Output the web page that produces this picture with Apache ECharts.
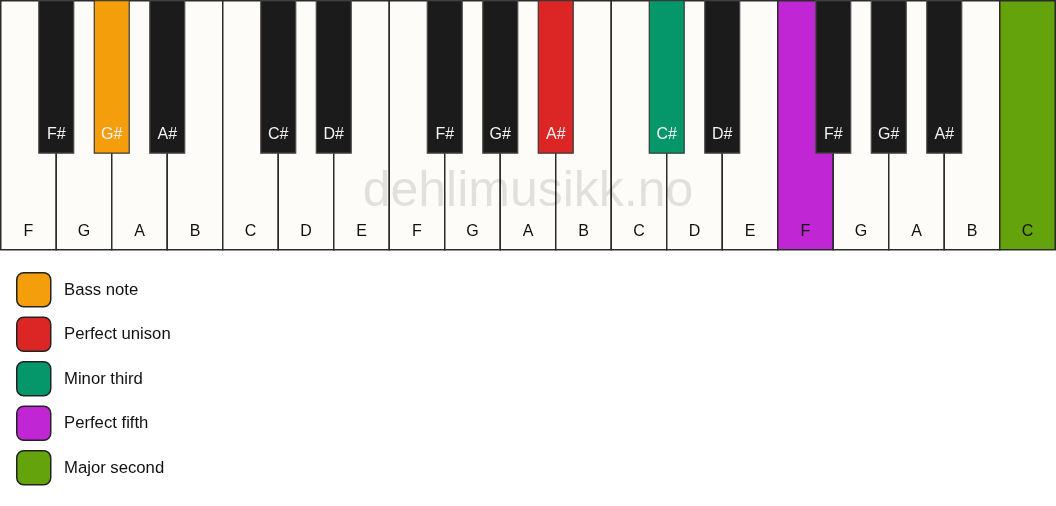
<!DOCTYPE html>
<html>
<head>
<meta charset="utf-8">
<script src="https://cdn.jsdelivr.net/npm/echarts@6/dist/echarts.min.js"></script>
<style>
html,body{margin:0;padding:0;background:#fff;}
#chart{width:1056px;height:506px;}
</style>
</head>
<body>
<div id="chart"></div>
<script>
// ---- data ----
var whiteKeys = ['F','G','A','B','C','D','E','F','G','A','B','C','D','E','F','G','A','B','C'];
var blackKeys = ['F#','G#','A#','C#','D#','F#','G#','A#','C#','D#','F#','G#','A#'];
// boundary index (between white key i-1 and i) where each black key sits
var blackPositions = [1,2,3,5,6,8,9,10,12,13,15,16,17];
// highlighted keys: type ('w' white index / 'b' black index), legend index
var highlightKind = ['b','b','b','w','w'];
var highlightIndex = [1,7,8,14,18];
var legendNames = ['Bass note','Perfect unison','Minor third','Perfect fifth','Major second'];
var legendColors = ['#F59E0B','#DC2626','#059669','#C026D3','#65A30D'];
var watermark = 'dehlimusikk.no';

var FONT = '"Liberation Sans", Arial, sans-serif';
var BLACK_W = 0.63;     // in white-key units
var BLACK_H = 0.612;    // fraction of key height

function colorFor(kind, idx){
  for (var k=0;k<highlightKind.length;k++){
    if (highlightKind[k]===kind && highlightIndex[k]===idx) return legendColors[k];
  }
  return null;
}

var whiteData = whiteKeys.map(function(n,i){ return [i, i]; });
var blackData = blackKeys.map(function(n,i){ return [blackPositions[i], i]; });

var chart = echarts.init(document.getElementById('chart'), null, {renderer:'canvas'});

var legendGraphics = [];
legendNames.forEach(function(name,k){
  var cy = 289 + k*44.5;
  legendGraphics.push({
    type:'rect', left:16, top:cy-17, shape:{width:34,height:34,r:7},
    style:{fill:legendColors[k], stroke:'#222', lineWidth:1.5}, z:10
  });
  legendGraphics.push({
    type:'text', x:64, y:cy+1,
    style:{text:name, fill:'#111', font:'16.7px '+FONT, textAlign:'left', textVerticalAlign:'middle'}, z:10
  });
});
legendGraphics.push({
  type:'text', x:528, y:192,
  style:{text:watermark, fill:'rgba(0,0,0,0.11)', font:'50px '+FONT, textAlign:'center', textVerticalAlign:'middle'},
  z:100
});

chart.setOption({
  animation:false,
  backgroundColor:'#ffffff',
  grid:{left:0.75, top:0.75, width:1054.5, height:249},
  xAxis:{type:'value', min:0, max:19, show:false},
  yAxis:{type:'value', min:0, max:1, inverse:true, show:false},
  graphic:legendGraphics,
  series:[
    {
      type:'custom', z:2,
      data:whiteData,
      renderItem:function(params, api){
        var i = api.value(0);
        var p0 = api.coord([i,0]);
        var p1 = api.coord([i+1,1]);
        var c = colorFor('w', i);
        var lbl = api.coord([i+0.5, 0.926]);
        return {
          type:'group',
          children:[
            {type:'rect', shape:{x:p0[0], y:p0[1], width:p1[0]-p0[0], height:p1[1]-p0[1]},
             style:{fill:c||'#FDFCF8', stroke:'#2b2b2b', lineWidth:1.5}},
            {type:'text', style:{x:lbl[0], y:lbl[1], text:whiteKeys[i], fill:'#111',
             font:'16px '+FONT, textAlign:'center', textVerticalAlign:'middle'}}
          ]
        };
      }
    },
    {
      type:'custom', z:3,
      data:blackData,
      renderItem:function(params, api){
        var pos = api.value(0);
        var idx = api.value(1);
        var p0 = api.coord([pos-BLACK_W/2, 0]);
        var p1 = api.coord([pos+BLACK_W/2, BLACK_H]);
        var c = colorFor('b', idx);
        var lbl = api.coord([pos, 0.537]);
        return {
          type:'group',
          children:[
            {type:'rect', shape:{x:p0[0], y:p0[1], width:p1[0]-p0[0], height:p1[1]-p0[1]},
             style:{fill:c||'#1b1b1b', stroke:c?'#3a3a3a':'#4a4a4a', lineWidth:1.2}},
            {type:'text', style:{x:lbl[0], y:lbl[1], text:blackKeys[idx], fill:'#f2f2f2',
             font:'16px '+FONT, textAlign:'center', textVerticalAlign:'middle'}}
          ]
        };
      }
    }
  ]
});
</script>
</body>
</html>
